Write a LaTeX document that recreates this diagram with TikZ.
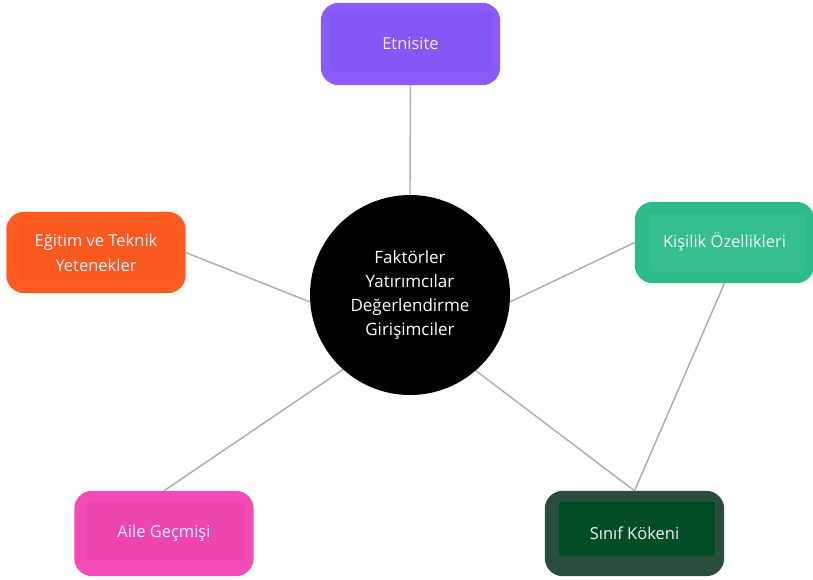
\documentclass[tikz,border=0pt]{standalone}
\usepackage{fontspec}
\setmainfont{Open Sans}
\usetikzlibrary{positioning}
\usetikzlibrary{backgrounds}
\usetikzlibrary{calc}

\definecolor{etnout}{HTML}{8C5AF8}
\definecolor{etnin}{HTML}{8456F4}
\definecolor{egtout}{HTML}{FD5A20}
\definecolor{egtin}{HTML}{F9581F}
\definecolor{kisout}{HTML}{2DBB88}
\definecolor{kisin}{HTML}{35BF8E}
\definecolor{aileout}{HTML}{F24BB8}
\definecolor{ailein}{HTML}{EC46AE}
\definecolor{sinout}{HTML}{2B4D3D}
\definecolor{sinin}{HTML}{014D26}
\definecolor{linkgray}{HTML}{ABABAB}
\definecolor{boxtext}{HTML}{F4F0FF}

\begin{document}
\begin{tikzpicture}[x=1pt,y=1pt,
	topic/.style = {rectangle, minimum width = 179pt, minimum height = 82pt, text = boxtext, font = \fontsize{16.5}{25}\selectfont, align = center, inner sep = 0pt},
	hub/.style = {fill = black, circle, minimum size = 200pt, text = white, font = \fontsize{17}{24}\selectfont, align = center, inner sep = 0pt},
	link/.style = {draw = linkgray, line width = 1.4pt}]
	\useasboundingbox (0,0) rectangle (813,579);

	\node[hub] at (410,284) (hub) {Faktörler\\Yatırımcılar\\Değerlendirme\\Girişimciler};

	\node[topic] at (410.5,535) (etn) {Etnisite};
	\node[topic, minimum height = 81pt] at (96,326.5) (egt) {Eğitim ve Teknik\\Yetenekler};
	\node[topic, minimum height = 81pt] at (724.5,336.5) (kis) {Kişilik Özellikleri};
	\node[topic, minimum height = 85pt] at (164,45.5) (aile) {Aile Geçmişi};
	\node[topic, minimum height = 85pt] at (634.5,45.5) (sin) {Sınıf Kökeni};

	\begin{scope}[on background layer]
		% outer boxes
		\fill[etnout, rounded corners = 18pt] (etn.south west) rectangle (etn.north east);
		\fill[egtout, rounded corners = 18pt] (egt.south west) rectangle (egt.north east);
		\fill[kisout, rounded corners = 18pt] (kis.south west) rectangle (kis.north east);
		\fill[aileout, rounded corners = 18pt] (aile.south west) rectangle (aile.north east);
		\fill[sinout, rounded corners = 18pt] (sin.south west) rectangle (sin.north east);
		% inner panels
		\fill[etnin] ($(etn.south west)+(8,14)$) rectangle ($(etn.north east)+(-8,-10)$);
		\fill[egtin] ($(egt.south west)+(14,12)$) rectangle ($(egt.north east)+(-9,-12)$);
		\fill[kisin] ($(kis.south west)+(14,12)$) rectangle ($(kis.north east)+(-9,-12)$);
		\fill[ailein] ($(aile.south west)+(12,16)$) rectangle ($(aile.north east)+(-9,-11)$);
		\fill[sinin] ($(sin.south west)+(14,20)$) rectangle ($(sin.north east)+(-9,-11)$);
	\end{scope}

	\draw[link] (etn) to (hub.90);
	\draw[link] (egt.east) to (hub.184);
	\draw[link] (kis.west) to (hub.356.5);
	\draw[link] (aile.north) to (hub.228.5);
	\draw[link] (sin.north) to (hub.311.5);
	\draw[link] (kis.south) to (sin.north);
\end{tikzpicture}
\end{document}
